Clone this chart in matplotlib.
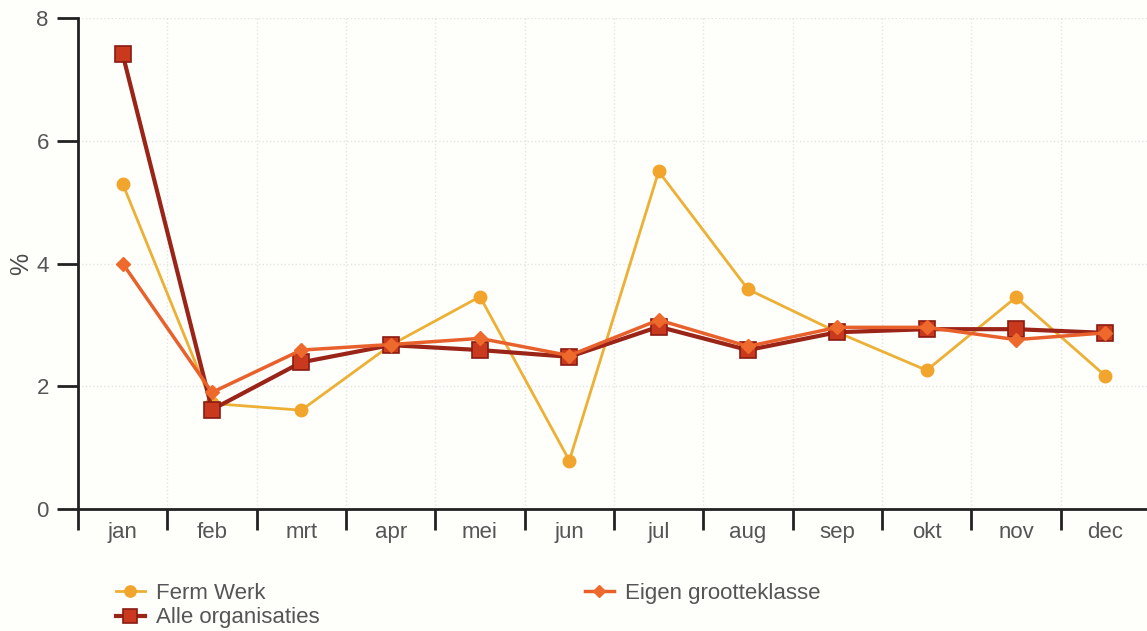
import matplotlib
matplotlib.use("Agg")
import matplotlib.pyplot as plt
import numpy as np

months = ["jan", "feb", "mrt", "apr", "mei", "jun", "jul", "aug", "sep", "okt", "nov", "dec"]
ferm_werk = [5.3, 1.72, 1.61, 2.67, 3.46, 0.79, 5.5, 3.58, 2.88, 2.26, 3.45, 2.17]
eigen_grootteklasse = [4.0, 1.9, 2.59, 2.68, 2.78, 2.5, 3.08, 2.65, 2.96, 2.96, 2.76, 2.87]
alle_organisaties = [7.41, 1.62, 2.39, 2.67, 2.59, 2.48, 2.97, 2.59, 2.88, 2.93, 2.93, 2.87]

plt.rcParams['font.family'] = ['Liberation Sans', 'DejaVu Sans']
text_col = "#555555"

fig = plt.figure(figsize=(11.47, 6.31), dpi=100)
fig.patch.set_facecolor("#fefefb")
ax = fig.add_axes([0.068, 0.1933, 0.9346, 0.7782])
ax.set_facecolor("#fefefb")

x = np.arange(len(months))
ax.plot(x, ferm_werk, color="#ecb035", lw=2, marker="o", ms=9,
        mfc="#f2a52c", mec="#f2a52c", label="Ferm Werk", zorder=3)
ax.plot(x, alle_organisaties, color="#9a2418", lw=3, marker="s", ms=11,
        mfc="#c8391e", mec="#8a1c12", mew=1.2, label="Alle organisaties", zorder=4)
ax.plot(x, eigen_grootteklasse, color="#e8612c", lw=2.5, marker="D", ms=7,
        mfc="#ee6a2c", mec="#ee6a2c", label="Eigen grootteklasse", zorder=5)

ax.set_xlim(-0.5, 11.5)
ax.set_ylim(0, 8)
ax.set_yticks([0, 2, 4, 6, 8])
# major ticks sit between months, labels go on the minor ticks
ax.set_xticks(np.arange(-0.5, 12, 1))
ax.set_xticklabels([])
ax.set_xticks(x, minor=True)
ax.set_xticklabels(months, minor=True)
ax.tick_params(axis="x", which="minor", length=0, pad=9, labelsize=16, labelcolor=text_col)
ax.tick_params(axis="x", which="major", length=15, width=2, direction="out", color="#222222")
ax.tick_params(axis="y", length=15, width=2, direction="out", color="#222222",
               labelsize=16, labelcolor=text_col, pad=6)

ax.grid(True, which="major", color="#e4e4e4", lw=1, ls=":")
for s in ["top", "right"]:
    ax.spines[s].set_visible(False)
for s in ["left", "bottom"]:
    ax.spines[s].set_linewidth(2)
    ax.spines[s].set_color("#222222")

ax.set_ylabel("%", fontsize=18, color="#4a4a4a")
ax.yaxis.set_label_coords(-0.042, 0.5)

h, l = ax.get_legend_handles_labels()
leg = fig.legend(h, l, ncol=2,
                 loc="upper left", bbox_to_anchor=(0.101, 0.076), frameon=False,
                 fontsize=16, labelcolor=text_col, handlelength=1.3, handletextpad=0.5,
                 columnspacing=11.95, labelspacing=0.15, borderpad=0, borderaxespad=0,
                 markerscale=0.9)

fig.savefig("out.png", dpi=100, facecolor=fig.get_facecolor())
